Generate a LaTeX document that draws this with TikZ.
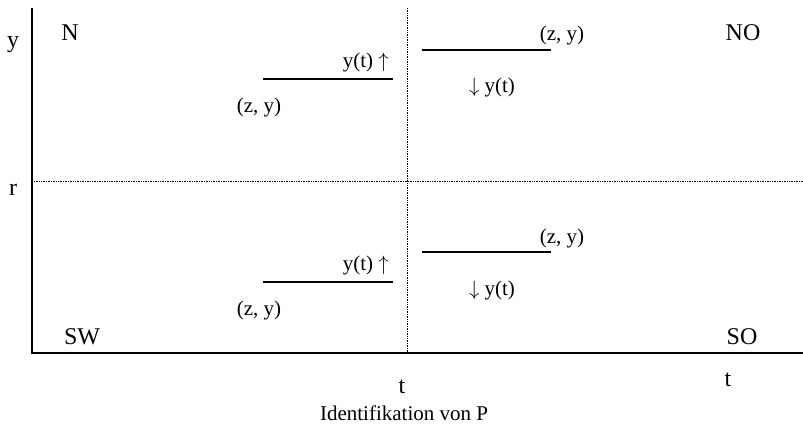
\documentclass[tikz,border=0pt]{standalone}
\usepackage{fontspec}
\setmainfont{Liberation Serif}
\tikzset{
  axis/.style={line width=1.4pt},
  grid line/.style={line width=0.7pt, densely dotted},
  level/.style={line width=1.4pt},
  quad/.style={font=\fontsize{24}{26}\selectfont, inner sep=0pt},
  caption/.style={font=\fontsize{21}{23}\selectfont, inner sep=0pt},
  lab/.style={font=\fontsize{21}{23}\selectfont, inner sep=0pt},
}
\begin{document}
\begin{tikzpicture}[x=1pt, y=-1pt]
  \useasboundingbox (0,0) rectangle (803,434);
  % axes
  \coordinate (top) at (32,8);
  \coordinate (origin) at (32,353);
  \coordinate (right) at (803,353);
  \draw[axis] (top) -- (origin) -- (right);
  % quadrant borders
  \coordinate (vtop) at (407,8);
  \coordinate (vbot) at (407,353);
  \coordinate (hleft) at (34,181);
  \coordinate (hright) at (803,181);
  \draw[grid line] (vtop) -- (vbot);
  \draw[grid line] (hleft) -- (hright);
  % axis labels
  \node[quad] (ylab) at (13,45) {y};
  \node[quad] (rlab) at (13,190) {r};
  \node[quad] (tmid) at (402,387) {t};
  \node[quad] (tright) at (728,380) {t};
  \node[caption] (title) at (404,413) {Identifikation von P};
  % quadrants
  \node[quad] (N) at (70,33) {N};
  \node[quad] (NO) at (743,33) {NO};
  \node[quad] (SW) at (82,337) {SW};
  \node[quad] (SO) at (742,337) {SO};
  % upper left
  \coordinate (ula) at (263,79);
  \coordinate (ulb) at (393,79);
  \draw[level] (ula) -- (ulb);
  \node[lab, anchor=east] (ulup) at (389,62) {y(t) $\uparrow$};
  \node[lab] (ulzy) at (259,107) {(z,\ y)};
  % upper right
  \coordinate (ura) at (422,50);
  \coordinate (urb) at (551,50);
  \draw[level] (ura) -- (urb);
  \node[lab] (urzy) at (562,35) {(z,\ y)};
  \node[lab] (urdown) at (492,87) {$\downarrow$ y(t)};
  % lower left
  \coordinate (lla) at (263,282);
  \coordinate (llb) at (393,282);
  \draw[level] (lla) -- (llb);
  \node[lab, anchor=east] (llup) at (389,265) {y(t) $\uparrow$};
  \node[lab] (llzy) at (259,310) {(z,\ y)};
  % lower right
  \coordinate (lra) at (422,252);
  \coordinate (lrb) at (551,252);
  \draw[level] (lra) -- (lrb);
  \node[lab] (lrzy) at (562,238) {(z,\ y)};
  \node[lab] (lrdown) at (492,290) {$\downarrow$ y(t)};
\end{tikzpicture}
\end{document}
